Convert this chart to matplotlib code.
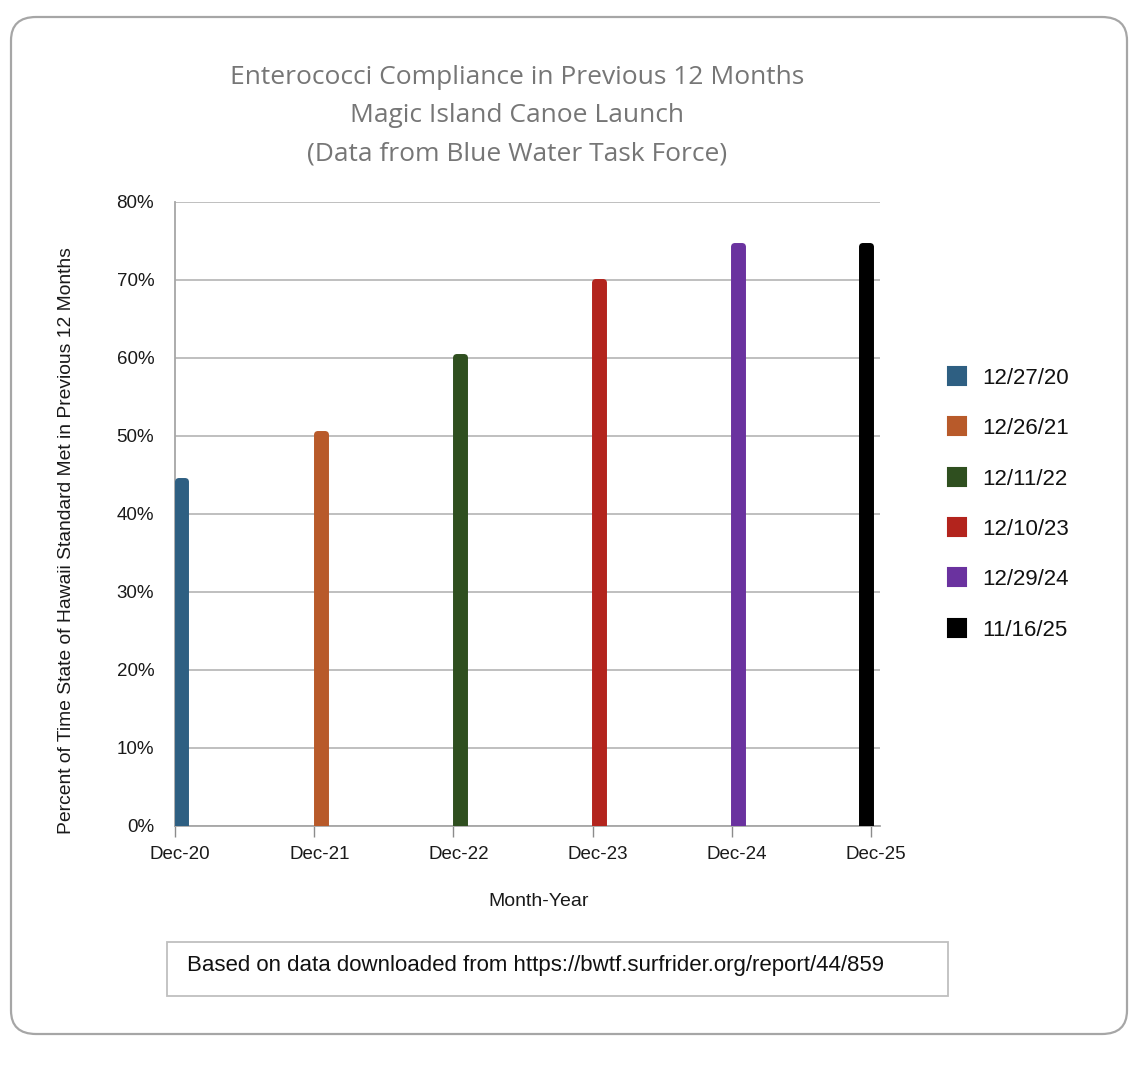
import matplotlib
matplotlib.use("Agg")
import matplotlib.pyplot as plt
from matplotlib.patches import FancyBboxPatch, Rectangle
from matplotlib.lines import Line2D
from matplotlib.ticker import FixedLocator, NullFormatter
from datetime import datetime

# ---- data ----
sample_dates = ["2020-12-27", "2021-12-26", "2022-12-11", "2023-12-10", "2024-12-29", "2025-11-16"]
legend_labels = ["12/27/20", "12/26/21", "12/11/22", "12/10/23", "12/29/24", "11/16/25"]
compliance = [0.442, 0.503, 0.601, 0.697, 0.743, 0.743]
bar_colors = ["#2e5f82", "#b85a2a", "#2f4f1f", "#b3241d", "#6a329f", "#000000"]
tick_months = ["2020-12", "2021-12", "2022-12", "2023-12", "2024-12", "2025-12"]
tick_labels = ["Dec-20", "Dec-21", "Dec-22", "Dec-23", "Dec-24", "Dec-25"]
y_ticks = [0, 0.1, 0.2, 0.3, 0.4, 0.5, 0.6, 0.7, 0.8]
y_tick_labels = ["0%", "10%", "20%", "30%", "40%", "50%", "60%", "70%", "80%"]

title_lines = ["Enterococci Compliance in Previous 12 Months",
               "Magic Island Canoe Launch",
               "(Data from Blue Water Task Force)"]
y_label = "Percent of Time State of Hawaii Standard Met in Previous 12 Months"
x_label = "Month-Year"
footnote = "Based on data downloaded from https://bwtf.surfrider.org/report/44/859"

W, H = 1142, 1068
plt.rcParams['font.family'] = ['Liberation Sans', 'DejaVu Sans']

fig = plt.figure(figsize=(W / 100, H / 100), dpi=100)
fig.patch.set_facecolor("white")

def fx(px):
    return px / W

def fy(py):
    return 1 - py / H

# month-based date axis (like a spreadsheet date axis with base unit = months)
base = datetime.strptime(tick_months[0], "%Y-%m")
def month_index(d):
    return (d.year - base.year) * 12 + (d.month - base.month)

# outer rounded frame
frame = FancyBboxPatch((fx(11), fy(1034)), fx(1127) - fx(11), fy(17) - fy(1034),
                       boxstyle="round,pad=0,rounding_size=0.022",
                       transform=fig.transFigure, facecolor="none",
                       edgecolor="#a6a6a6", linewidth=1.6, zorder=-1)
fig.patches.append(frame)

ax = fig.add_axes([fx(175), fy(826), fx(880) - fx(175), fy(202) - fy(826)])
ax.set_facecolor("white")

dates = [datetime.strptime(d, "%Y-%m-%d") for d in sample_dates]
xm = [month_index(d) + 0.56 for d in dates]
bars = ax.bar(xm, compliance, width=0.68, color=bar_colors,
              edgecolor=bar_colors, linewidth=5, zorder=3)
for b in bars:
    b.set_joinstyle("round")

tick_idx = [month_index(datetime.strptime(m, "%Y-%m")) for m in tick_months]
ax.set_xlim(tick_idx[0], tick_idx[-1] + 0.77)
ax.set_ylim(0, 0.8)

ax.xaxis.set_major_locator(FixedLocator(tick_idx))
ax.xaxis.set_major_formatter(NullFormatter())
ax.set_xticks([t + 0.45 for t in tick_idx], minor=True)
ax.set_xticklabels(tick_labels, minor=True, fontsize=13.5, color="#1a1a1a")
ax.set_yticks(y_ticks)
ax.set_yticklabels(y_tick_labels, fontsize=13.5, color="#1a1a1a")

ax.tick_params(axis="x", which="major", length=8, width=1, color="#8c8c8c", direction="out")
ax.tick_params(axis="x", which="minor", length=0, pad=14.5)
ax.tick_params(axis="y", length=0, pad=15)

ax.grid(axis="y", color="#bfbfbf", linewidth=1.4, zorder=0)
ax.set_axisbelow(True)
for s in ["top", "right"]:
    ax.spines[s].set_visible(False)
ax.spines["left"].set_color("#a6a6a6")
ax.spines["left"].set_linewidth(1.3)
ax.spines["bottom"].set_color("#a6a6a6")
ax.spines["bottom"].set_linewidth(1.3)

# titles
for i, t in enumerate(title_lines):
    fig.text(fx(517), fy(78 + 38 * i), t, ha="center", va="center",
             fontsize=19, color="#767676", family=["Open Sans", "DejaVu Sans"])

# axis labels
fig.text(fx(67), fy(541), y_label, rotation=90, ha="center", va="center",
         fontsize=13.9, color="#1a1a1a")
fig.text(fx(539), fy(901), x_label, ha="center", va="center",
         fontsize=14, color="#1a1a1a")

# legend
handles = [Line2D([0], [0], marker="s", linestyle="none", markersize=13,
                  markerfacecolor=c, markeredgecolor=c, markeredgewidth=1.5)
           for c in bar_colors]
leg = fig.legend(handles, legend_labels, loc="upper left",
                 bbox_to_anchor=(fx(937), fy(359)), frameon=False,
                 fontsize=16, labelspacing=1.32, handletextpad=0.62,
                 handlelength=1.0, borderaxespad=0)
for txt in leg.get_texts():
    txt.set_color("#111111")

# footnote box
fig.patches.append(Rectangle((fx(167), fy(996)), fx(948) - fx(167), fy(942) - fy(996),
                             transform=fig.transFigure, facecolor="white",
                             edgecolor="#bfbfbf", linewidth=1.3))
fig.text(fx(187), fy(965), footnote, ha="left", va="center", fontsize=16,
         color="#111111")

fig.savefig("out.png", dpi=100, facecolor="white")
